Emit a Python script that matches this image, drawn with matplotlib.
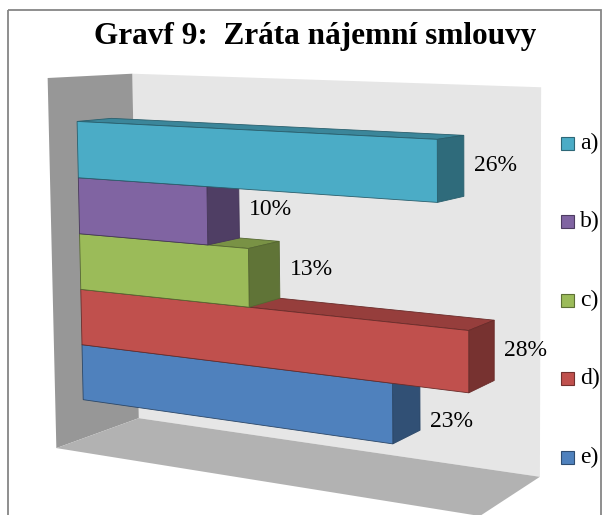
import numpy as np
import matplotlib.pyplot as plt
from matplotlib.patches import Polygon, Rectangle

# data
categories = ["a)", "b)", "c)", "d)", "e)"]
values = [26, 10, 13, 28, 23]
labels = ["26%", "10%", "13%", "28%", "23%"]
front_colors = ["#4BACC6", "#8064A2", "#9BBB59", "#C0504D", "#4F81BD"]
title = "Gravf 9:  Zráta nájemní smlouvy"

XMAX = 30.0
W, H = 608, 515


def fit_projection(world, screen):
    """3x4 perspective matrix from world->screen correspondences (DLT)."""
    rows = []
    for (X, Y, Z), (u, v) in zip(world, screen):
        rows.append([X, Y, Z, 1, 0, 0, 0, 0, -u * X, -u * Y, -u * Z, -u])
        rows.append([0, 0, 0, 0, X, Y, Z, 1, -v * X, -v * Y, -v * Z, -v])
    _, _, vt = np.linalg.svd(np.array(rows, dtype=float))
    return vt[-1].reshape(3, 4)


# corners of the 3D box (x: value/XMAX, y: up, z: depth) and where they sit on the page
box_world = [(0, 1, 0), (0, 0, 0), (0, 1, 1), (0, 0, 1), (1, 1, 1), (1, 0, 1), (1, 0, 0)]
box_screen = [(47, 79), (56, 448), (133, 73), (139, 418), (541, 87), (539, 478), (481, 515)]
P = fit_projection(box_world, box_screen)


def proj(pts):
    pts = np.asarray(pts, dtype=float)
    h = np.c_[pts, np.ones(len(pts))] @ P.T
    return h[:, :2] / h[:, 2:3]


def shade(hex_color, f):
    c = np.array([int(hex_color[i:i + 2], 16) for i in (1, 3, 5)]) / 255.0
    return tuple(c * f)


fig = plt.figure(figsize=(W / 100, H / 100), dpi=100)
ax = fig.add_axes([0, 0, 1, 1])
ax.set_xlim(0, W)
ax.set_ylim(H, 0)
ax.axis("off")

# walls and floor
back = proj([(0, 0, 1), (1, 0, 1), (1, 1, 1), (0, 1, 1)])
left = proj([(0, 0, 0), (0, 0, 1), (0, 1, 1), (0, 1, 0)])
floor = proj([(0, 0, 0), (1, 0, 0), (1, 0, 1), (0, 0, 1)])
ax.add_patch(Polygon(back, closed=True, fc="#e6e6e6", ec="none"))
ax.add_patch(Polygon(left, closed=True, fc="#979797", ec="none"))
ax.add_patch(Polygon(floor, closed=True, fc="#b2b2b2", ec="none"))

# bars (bottom one first so upper bars cover the lower tops)
z0, z1 = 0.32, 0.73
y_top, band = 0.878, 0.154
# where the label sits on the bar side (0 bottom, 1 top); last one is pushed
# down clear of the longer bar above it
label_frac = [0.5, 0.5, 0.5, 0.5, 0.15]
n = len(values)
for i in reversed(range(n)):
    x1 = values[i] / XMAX
    yt = y_top - i * band
    yb = yt - band
    col = front_colors[i]
    edge = shade(col, 0.55)
    top = proj([(0, yt, z0), (x1, yt, z0), (x1, yt, z1), (0, yt, z1)])
    side = proj([(x1, yb, z0), (x1, yt, z0), (x1, yt, z1), (x1, yb, z1)])
    front = proj([(0, yb, z0), (x1, yb, z0), (x1, yt, z0), (0, yt, z0)])
    ax.add_patch(Polygon(top, closed=True, fc=shade(col, 0.78), ec=edge, lw=0.6))
    ax.add_patch(Polygon(side, closed=True, fc=shade(col, 0.62), ec=edge, lw=0.6))
    ax.add_patch(Polygon(front, closed=True, fc=col, ec=edge, lw=0.6))
    lx, ly = proj([(x1, yb + label_frac[i] * band, z1)])[0]
    ax.text(lx + 10, ly, labels[i], ha="left", va="center",
            fontsize=17, family="Liberation Serif", color="black")

# legend
for i, cat in enumerate(categories):
    cy = 143 + i * 78.5
    ax.add_patch(Rectangle((561, cy - 6.5), 13, 13, fc=front_colors[i],
                           ec=shade(front_colors[i], 0.6), lw=0.8))
    ax.text(580, cy, cat, ha="left", va="center", fontsize=17,
            family="Liberation Serif", color="black")

# title and outer frame
ax.text(315, 44, title, ha="center", va="baseline", fontsize=22.5,
        fontweight="bold", family="Liberation Serif", color="black")
ax.add_patch(Rectangle((7.5, 9.5), 593, 540, fill=False, ec="#868686", lw=1.3))

fig.savefig("out.png", dpi=100)
